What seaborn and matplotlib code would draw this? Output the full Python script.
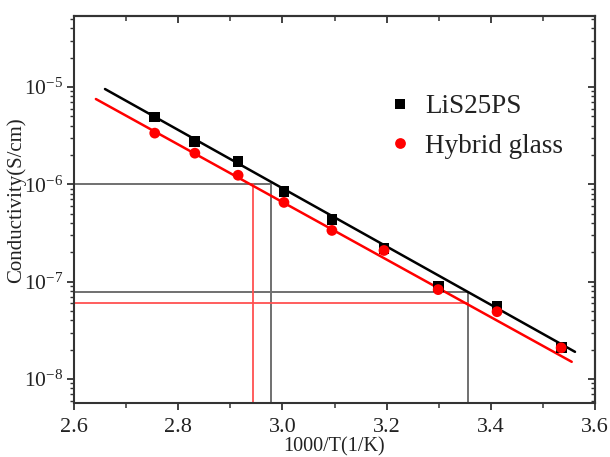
import numpy as np
import pandas as pd
import matplotlib
matplotlib.use("Agg")
import matplotlib.pyplot as plt
import seaborn as sns
from matplotlib.ticker import LogLocator, MultipleLocator, NullFormatter, FixedLocator

# ---- data ----
inv_T = [2.755, 2.832, 2.915, 3.003, 3.095, 3.195, 3.299, 3.412, 3.535]
sigma_lis25ps = [4.91e-6, 2.77e-6, 1.73e-6, 8.48e-7, 4.36e-7, 2.19e-7, 8.88e-8, 5.52e-8, 2.09e-8]
sigma_hybrid = [3.36e-6, 2.09e-6, 1.24e-6, 6.52e-7, 3.36e-7, 2.09e-7, 8.28e-8, 4.91e-8, 2.09e-8]

fit_lis_x = [2.6595, 3.5616]
fit_lis_y = [9.54e-6, 1.90e-8]
fit_hyb_x = [2.642, 3.5553]
fit_hyb_y = [7.53e-6, 1.50e-8]

# guide lines: (x_end, y_level)
guide_gray_x = [2.9775, 3.3556]
guide_gray_y = [1.0e-6, 7.76e-8]
guide_red_vx = 2.944
guide_red_vy = 1.0e-6
guide_red_hx = 3.3556
guide_red_hy = 6.04e-8

xlim = (2.6, 3.6)
ylim = (5.66e-9, 5.37e-5)
x_major = [2.6, 2.8, 3.0, 3.2, 3.4, 3.6]
x_labels = ["2.6", "2.8", "3.0", "3.2", "3.4", "3.6"]
y_major = [1e-8, 1e-7, 1e-6, 1e-5]
y_labels = [r"$\mathregular{10^{-8}}$", r"$\mathregular{10^{-7}}$",
            r"$\mathregular{10^{-6}}$", r"$\mathregular{10^{-5}}$"]

sns.set_style("ticks")
plt.rcParams["font.family"] = ["Liberation Serif", "DejaVu Serif"]
plt.rcParams["mathtext.fontset"] = "custom"
plt.rcParams["mathtext.rm"] = "Liberation Serif"
plt.rcParams["mathtext.it"] = "Liberation Serif:italic"

fig = plt.figure(figsize=(6.1, 4.57), dpi=100)
ax = fig.add_axes([74 / 610, 1 - 403 / 457, (595 - 74) / 610, (403 - 16) / 457])

spine_c = "#333333"
gray = "#707070"
redg = "#ff5050"

# guide lines
ax.plot([xlim[0], guide_gray_x[0]], [guide_gray_y[0]] * 2, color=gray, lw=1.4, zorder=1)
ax.plot([guide_gray_x[0]] * 2, [ylim[0], guide_gray_y[0]], color=gray, lw=1.4, zorder=1)
ax.plot([xlim[0], guide_gray_x[1]], [guide_gray_y[1]] * 2, color=gray, lw=1.4, zorder=1)
ax.plot([guide_gray_x[1]] * 2, [ylim[0], guide_gray_y[1]], color=gray, lw=1.4, zorder=1)
ax.plot([guide_red_vx] * 2, [ylim[0], guide_red_vy], color=redg, lw=1.3, zorder=1)
ax.plot([xlim[0], guide_red_hx], [guide_red_hy] * 2, color=redg, lw=1.3, zorder=1)

# fit lines
sns.lineplot(x=fit_lis_x, y=fit_lis_y, ax=ax, color="black", lw=1.8, zorder=2)
sns.lineplot(x=fit_hyb_x, y=fit_hyb_y, ax=ax, color="#ff0000", lw=1.8, zorder=2)

# data points
df = pd.DataFrame({
    "x": inv_T * 2,
    "y": sigma_lis25ps + sigma_hybrid,
    "s": ["LiS25PS"] * len(inv_T) + ["Hybrid glass"] * len(inv_T),
})
sns.scatterplot(data=df, x="x", y="y", hue="s", style="s",
                palette={"LiS25PS": "black", "Hybrid glass": "#ff0000"},
                markers={"LiS25PS": "s", "Hybrid glass": "o"},
                s=60, linewidth=0, ax=ax, zorder=3)

ax.set_yscale("log")
ax.set_xlim(*xlim)
ax.set_ylim(*ylim)

ax.xaxis.set_major_locator(FixedLocator(x_major))
ax.set_xticklabels(x_labels)
ax.xaxis.set_minor_locator(MultipleLocator(0.1))
ax.yaxis.set_major_locator(FixedLocator(y_major))
ax.set_yticklabels(y_labels)
ax.yaxis.set_minor_locator(LogLocator(base=10, subs=np.arange(2, 10)))
ax.yaxis.set_minor_formatter(NullFormatter())

ax.tick_params(axis="x", which="major", direction="out", length=5, width=1.3,
               color=spine_c, labelsize=16, pad=6, labelcolor="#222222")
ax.tick_params(axis="x", which="minor", direction="out", length=3.5, width=1.1, color=spine_c)
ax.tick_params(axis="y", which="major", direction="out", length=5, width=1.3,
               color=spine_c, labelsize=15.5, pad=3, labelcolor="#222222")
ax.tick_params(axis="y", which="minor", direction="out", length=3, width=1.0, color=spine_c)

for sp in ax.spines.values():
    sp.set_color(spine_c)
    sp.set_linewidth(1.5)

# mirrored inward ticks on top and right
sx = ax.secondary_xaxis("top")
sx.xaxis.set_major_locator(FixedLocator(x_major))
sx.xaxis.set_minor_locator(MultipleLocator(0.1))
sx.tick_params(which="major", direction="in", length=5, width=1.3, color=spine_c, labeltop=False)
sx.tick_params(which="minor", direction="in", length=3.5, width=1.1, color=spine_c)
sx.spines["top"].set_color(spine_c)
sx.spines["top"].set_linewidth(1.5)

sy = ax.secondary_yaxis("right")
sy.yaxis.set_major_locator(FixedLocator(y_major))
sy.yaxis.set_minor_locator(LogLocator(base=10, subs=np.arange(2, 10)))
sy.yaxis.set_minor_formatter(NullFormatter())
sy.tick_params(which="major", direction="in", length=5, width=1.3, color=spine_c, labelright=False)
sy.tick_params(which="minor", direction="in", length=3, width=1.0, color=spine_c)
sy.spines["right"].set_color(spine_c)
sy.spines["right"].set_linewidth(1.5)

ax.set_xlabel("1000/T(1/K)", fontsize=14.5, color="#222222", labelpad=0)
ax.set_ylabel("Conductivity(S/cm)", fontsize=15, color="#222222")
ax.yaxis.set_label_coords((26 - 74) / 521, (403 - 200) / 387)

# legend
h, l = ax.get_legend_handles_labels()
leg = ax.legend(h, l, loc="upper left", bbox_to_anchor=(386 / 610, 1 - 94 / 457),
                bbox_transform=fig.transFigure, frameon=False, fontsize=19.5,
                handlelength=1.0, handletextpad=0.45, labelspacing=0.55,
                markerscale=1.0, borderaxespad=0, borderpad=0)
for t in leg.get_texts():
    t.set_color("#222222")

fig.savefig("out.png", dpi=100)
